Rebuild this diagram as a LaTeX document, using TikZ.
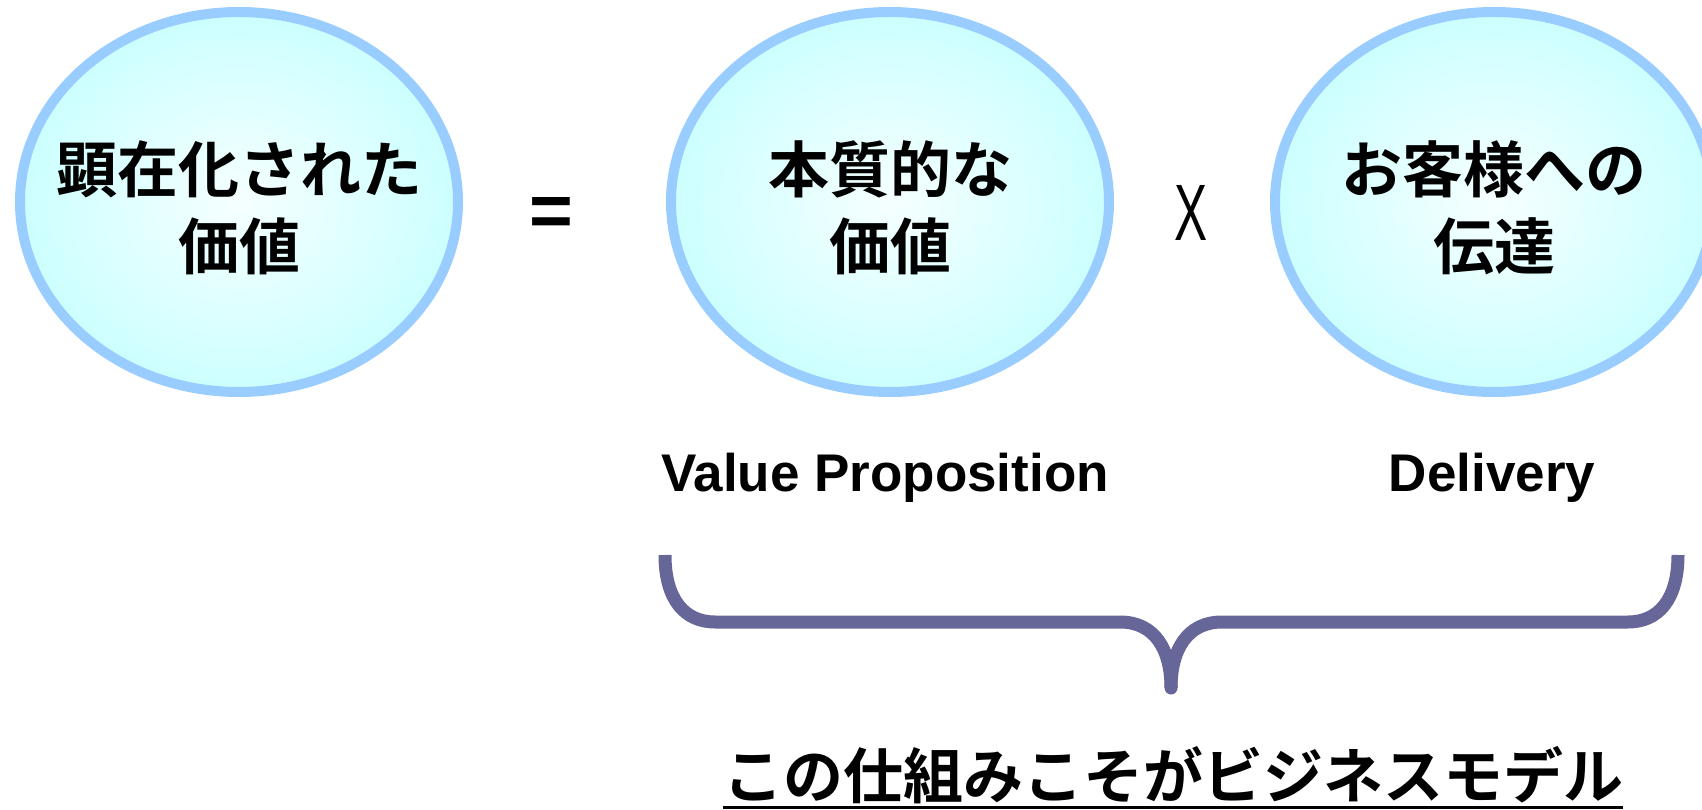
\documentclass[tikz,border=0pt]{standalone}
\usepackage{fontspec}
\usetikzlibrary{shapes.geometric}
\newfontfamily\jpb{Noto Sans CJK JP Bold}
\newfontfamily\arb{Liberation Sans Bold}
\newfontfamily\arr{Liberation Sans}
\definecolor{ringblue}{HTML}{99CCFF}
\definecolor{fillout}{HTML}{CCFFFF}
\definecolor{fillin}{HTML}{F6FFFF}
\definecolor{bracecol}{HTML}{666699}
\tikzset{
  valring/.style={ellipse, draw=ringblue, line width=10pt, inner sep=0pt,
    minimum width=438pt, minimum height=380pt,
    inner color=fillin, outer color=fillout},
  jptext/.style={align=center, inner sep=0pt, font=\jpb\fontsize{61}{77}\selectfont},
  entext/.style={inner sep=0pt, anchor=base, font=\arb\fontsize{53}{60}\selectfont},
  bracepath/.style={draw=bracecol, line width=13pt, line cap=butt, line join=round}
}
\begin{document}
\begin{tikzpicture}[x=1pt,y=-1pt]
\useasboundingbox (0,0) rectangle (1702,810);
\clip (0,0) rectangle (1702,810);
% ellipses
\node[valring] (e1) at (239,202) {};
\node[valring] (e2) at (890,202) {};
\node[valring] (e3) at (1494,202) {};
% ellipse texts
\node[jptext] (t1) at (239,208) {顕在化された\\価値};
\node[jptext] (t2) at (890,208) {本質的な\\価値};
\node[jptext] (t3) at (1494,208) {お客様への\\伝達};
% operators
\node[inner sep=0pt, font=\arb\fontsize{75}{80}\selectfont] (eq) at (551,217) {=};
\node[inner sep=0pt, anchor=base, font=\arr\fontsize{80}{90}\selectfont] (xx) at (1191,241) {\scalebox{0.62}[1]{X}};
% english labels
\node[entext] (vp) at (885,491) {Value Proposition};
\node[entext] (dl) at (1492,491) {Delivery};
% brace
\draw[bracepath] (665,555) .. controls (665,600) and (685,622) .. (715,622)
  -- (1120,622) .. controls (1155,622) and (1171,650) .. (1171,688);
\draw[bracepath] (1678,555) .. controls (1678,600) and (1658,622) .. (1628,622)
  -- (1222,622) .. controls (1187,622) and (1171,650) .. (1171,688);
\fill[bracecol] (1171,688) circle (6.5pt);
% bottom text
\node[inner sep=0pt, anchor=base, font=\jpb\fontsize{60}{70}\selectfont] (bt) at (1173,798) {この仕組みこそがビジネスモデル};
\draw[line width=2.5pt] ([yshift=-4pt]bt.south west) -- ([yshift=-4pt]bt.south east);
\end{tikzpicture}
\end{document}
